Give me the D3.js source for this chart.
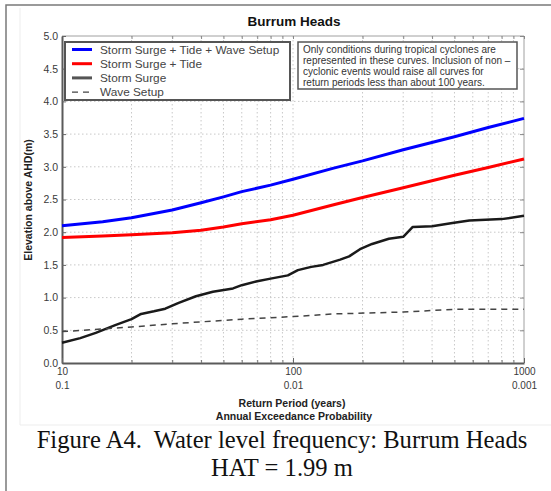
<!DOCTYPE html>
<html>
<head>
<meta charset="utf-8">
<script src="https://cdn.jsdelivr.net/npm/d3@7"></script>
<style>
  body { margin: 0; background: #fff; }
  svg { display: block; font-family: "Liberation Sans", Arial, sans-serif; }
</style>
</head>
<body>
<div id="chart"></div>
<script>
// return periods (years) for the smooth curves
var periods = [10, 15, 20, 30, 40, 50, 60, 80, 100, 150, 200, 300, 500, 700, 1000];
var totalLevel = [2.10, 2.16, 2.22, 2.34, 2.45, 2.54, 2.62, 2.72, 2.81, 2.98, 3.09, 3.26, 3.46, 3.60, 3.74];
var surgeTideLevel = [1.92, 1.94, 1.96, 1.99, 2.03, 2.08, 2.13, 2.19, 2.26, 2.42, 2.53, 2.68, 2.87, 2.99, 3.12];

// storm surge alone is read more finely (it has steps)
var surgePeriods = [10, 12, 14, 17, 20, 22, 25, 28, 32, 38, 45, 55, 60, 70, 80, 95, 105, 120, 135, 160, 175, 195, 220, 260, 300, 330, 400, 490, 580, 800, 1000];
var surgeLevel = [0.31, 0.38, 0.46, 0.58, 0.67, 0.75, 0.79, 0.83, 0.92, 1.02, 1.09, 1.14, 1.19, 1.25, 1.29, 1.34, 1.42, 1.47, 1.50, 1.58, 1.63, 1.74, 1.82, 1.90, 1.93, 2.08, 2.09, 2.14, 2.18, 2.20, 2.25];

var wavePeriods = [10, 20, 30, 60, 100, 150, 300, 500, 1000];
var waveLevel = [0.48, 0.55, 0.60, 0.67, 0.71, 0.75, 0.78, 0.82, 0.82];

var yTicks = [0, 0.5, 1, 1.5, 2, 2.5, 3, 3.5, 4, 4.5, 5];
var xMajor = [10, 100, 1000];
var xProb = ["0.1", "0.01", "0.001"];
var xMinor = [20, 30, 40, 50, 60, 70, 80, 90, 200, 300, 400, 500, 600, 700, 800, 900];

var legendNames = ["Storm Surge + Tide + Wave Setup", "Storm Surge + Tide", "Storm Surge", "Wave Setup"];
var noteLines = [
  "Only conditions during tropical cyclones are",
  "represented in these curves. Inclusion of non \u2013",
  "cyclonic events would raise all curves for",
  "return periods less than about 100 years."
];

var svgWidth = 551, svgHeight = 491;
var margins = { top: 36, right: 27, bottom: 128, left: 62 };
var width = svgWidth - margins.left - margins.right;
var height = svgHeight - margins.top - margins.bottom;

var svg = d3.select("#chart").append("svg")
    .attr("width", svgWidth)
    .attr("height", svgHeight);

svg.append("rect").attr("width", svgWidth).attr("height", svgHeight).attr("fill", "#fff");

// outer page frame + faint edge of the pasted figure
svg.append("path").attr("d", "M6,491V5H551").attr("fill", "none").attr("stroke", "#7a7a7a").attr("stroke-width", 1.5);
svg.append("path").attr("d", "M20,8V425H551").attr("fill", "none").attr("stroke", "#ededed").attr("stroke-width", 1);

var chartGroup = svg.append("g")
    .attr("transform", `translate(${margins.left}, ${margins.top})`);

var xScale = d3.scaleLog().domain([10, 1000]).range([0, width]);
var yScale = d3.scaleLinear().domain([0, 5]).range([height, 0]);

// dotted grid
chartGroup.selectAll(".hgrid").data(yTicks.slice(1, -1)).enter().append("line")
    .attr("x1", 0).attr("x2", width)
    .attr("y1", d => yScale(d)).attr("y2", d => yScale(d))
    .attr("stroke", "#c8c8c8").attr("stroke-dasharray", "1.5,2.5");
chartGroup.selectAll(".vgrid").data(xMinor.concat([100])).enter().append("line")
    .attr("x1", d => xScale(d)).attr("x2", d => xScale(d))
    .attr("y1", 0).attr("y2", height)
    .attr("stroke", "#c8c8c8").attr("stroke-dasharray", "1.5,2.5");

// frame: top / right light
chartGroup.append("path")
    .attr("d", `M0,0H${width}V${height}`)
    .attr("fill", "none").attr("stroke", "#a0a0a0").attr("stroke-width", 1);

// axes (ticks pointing inward)
var leftAxis = d3.axisLeft(yScale).tickValues(yTicks).tickFormat(d3.format(".1f"))
    .tickSizeInner(-4).tickSizeOuter(0).tickPadding(4);
var rightAxis = d3.axisRight(yScale).tickValues(yTicks).tickFormat("")
    .tickSizeInner(-4).tickSizeOuter(0);
var bottomAxis = d3.axisBottom(xScale).tickValues(xMajor).tickFormat(d3.format("d"))
    .tickSizeInner(-5).tickSizeOuter(0).tickPadding(5);
var bottomMinor = d3.axisBottom(xScale).tickValues(xMinor).tickFormat("")
    .tickSizeInner(-3).tickSizeOuter(0);
var topAxis = d3.axisTop(xScale).tickValues(xMajor.concat(xMinor)).tickFormat("")
    .tickSizeInner(-3).tickSizeOuter(0);

chartGroup.append("g").attr("transform", `translate(${width},0)`).call(rightAxis)
    .call(g => g.select(".domain").remove())
    .selectAll("line").attr("stroke", "#888");
chartGroup.append("g").call(topAxis)
    .call(g => g.select(".domain").remove())
    .selectAll("line").attr("stroke", "#888");

var yAxisG = chartGroup.append("g").call(leftAxis);
var xAxisG = chartGroup.append("g").attr("transform", `translate(0, ${height})`).call(bottomAxis);
chartGroup.append("g").attr("transform", `translate(0, ${height})`).call(bottomMinor)
    .call(g => g.select(".domain").remove())
    .selectAll("line").attr("stroke", "#777");

[yAxisG, xAxisG].forEach(g => {
    g.select(".domain").attr("stroke", "#5a5a5a").attr("stroke-width", 2);
    g.selectAll(".tick line").attr("stroke", "#666");
    g.selectAll("text").attr("fill", "#3a3a3a").attr("font-size", "10px")
        .attr("font-family", "Liberation Sans, Arial, sans-serif");
});
yAxisG.selectAll("text").attr("font-size", "10.5px");

// second line under x tick labels: exceedance probability
xAxisG.selectAll(".tick text").each(function(d, i) {
    var t = d3.select(this);
    t.append("tspan").attr("x", 0).attr("dy", "1.4em").text(xProb[i]);
});

// curves
var line = d3.line().x(d => xScale(d[0])).y(d => yScale(d[1]));

var series = [
    { name: legendNames[0], pts: d3.zip(periods, totalLevel), color: "#0000ff", w: 3, dash: null },
    { name: legendNames[1], pts: d3.zip(periods, surgeTideLevel), color: "#ff0000", w: 3, dash: null },
    { name: legendNames[2], pts: d3.zip(surgePeriods, surgeLevel), color: "#1a1a1a", w: 2.5, dash: null },
    { name: legendNames[3], pts: d3.zip(wavePeriods, waveLevel), color: "#444", w: 1.5, dash: "6,5" }
];

chartGroup.selectAll(".curve").data(series).enter().append("path")
    .attr("d", d => line(d.pts))
    .attr("fill", "none")
    .attr("stroke", d => d.color)
    .attr("stroke-width", d => d.w)
    .attr("stroke-dasharray", d => d.dash)
    .attr("stroke-linejoin", "round");

// legend box
var legend = svg.append("g").attr("transform", "translate(65, 42)");
legend.append("rect").attr("width", 225).attr("height", 58)
    .attr("fill", "#fff").attr("stroke", "#555").attr("stroke-width", 2);
var legendRows = legend.selectAll(".row").data(series).enter().append("g")
    .attr("transform", (d, i) => `translate(0, ${7.5 + i * 14.2})`);
legendRows.append("line")
    .attr("x1", 7).attr("x2", 27)
    .attr("stroke", (d, i) => i == 2 ? "#555" : d.color)
    .attr("stroke-width", (d, i) => i == 3 ? 1.3 : 3)
    .attr("stroke-dasharray", d => d.dash);
legendRows.append("text")
    .attr("x", 35).attr("dy", "0.36em")
    .attr("font-size", "11.8px").attr("fill", "#444")
    .text(d => d.name);

// note box
var note = svg.append("g").attr("transform", "translate(298, 42)");
note.append("rect").attr("width", 219).attr("height", 47)
    .attr("fill", "#fff").attr("stroke", "#555").attr("stroke-width", 1.5);
note.selectAll("text").data(noteLines).enter().append("text")
    .attr("x", 5).attr("y", (d, i) => 11 + i * 11)
    .attr("font-size", "10px").attr("fill", "#333")
    .text(d => d);

// titles
svg.append("text")
    .attr("x", 294).attr("y", 26)
    .attr("text-anchor", "middle").attr("font-weight", "bold").attr("font-size", "13.5px")
    .attr("fill", "#111")
    .text("Burrum Heads");

svg.append("text")
    .attr("transform", "translate(32, 200) rotate(-90)")
    .attr("text-anchor", "middle").attr("font-weight", "bold").attr("font-size", "10.5px")
    .attr("fill", "#222")
    .text("Elevation above AHD(m)");

svg.append("text")
    .attr("x", 292).attr("y", 407)
    .attr("text-anchor", "middle").attr("font-weight", "bold").attr("font-size", "10.5px")
    .attr("fill", "#222")
    .text("Return Period (years)");
svg.append("text")
    .attr("x", 294).attr("y", 420)
    .attr("text-anchor", "middle").attr("font-weight", "bold").attr("font-size", "10.5px")
    .attr("fill", "#222")
    .text("Annual Exceedance Probability");

// figure caption
var caption = svg.append("g")
    .attr("font-family", "Liberation Serif, Times New Roman, serif")
    .attr("font-size", "24.6px").attr("fill", "#111").attr("text-anchor", "middle");
caption.append("text").attr("x", 282).attr("y", 448).style("white-space", "pre")
    .text("Figure A4.  Water level frequency: Burrum Heads");
caption.append("text").attr("x", 282).attr("y", 476)
    .text("HAT = 1.99 m");
</script>
</body>
</html>
